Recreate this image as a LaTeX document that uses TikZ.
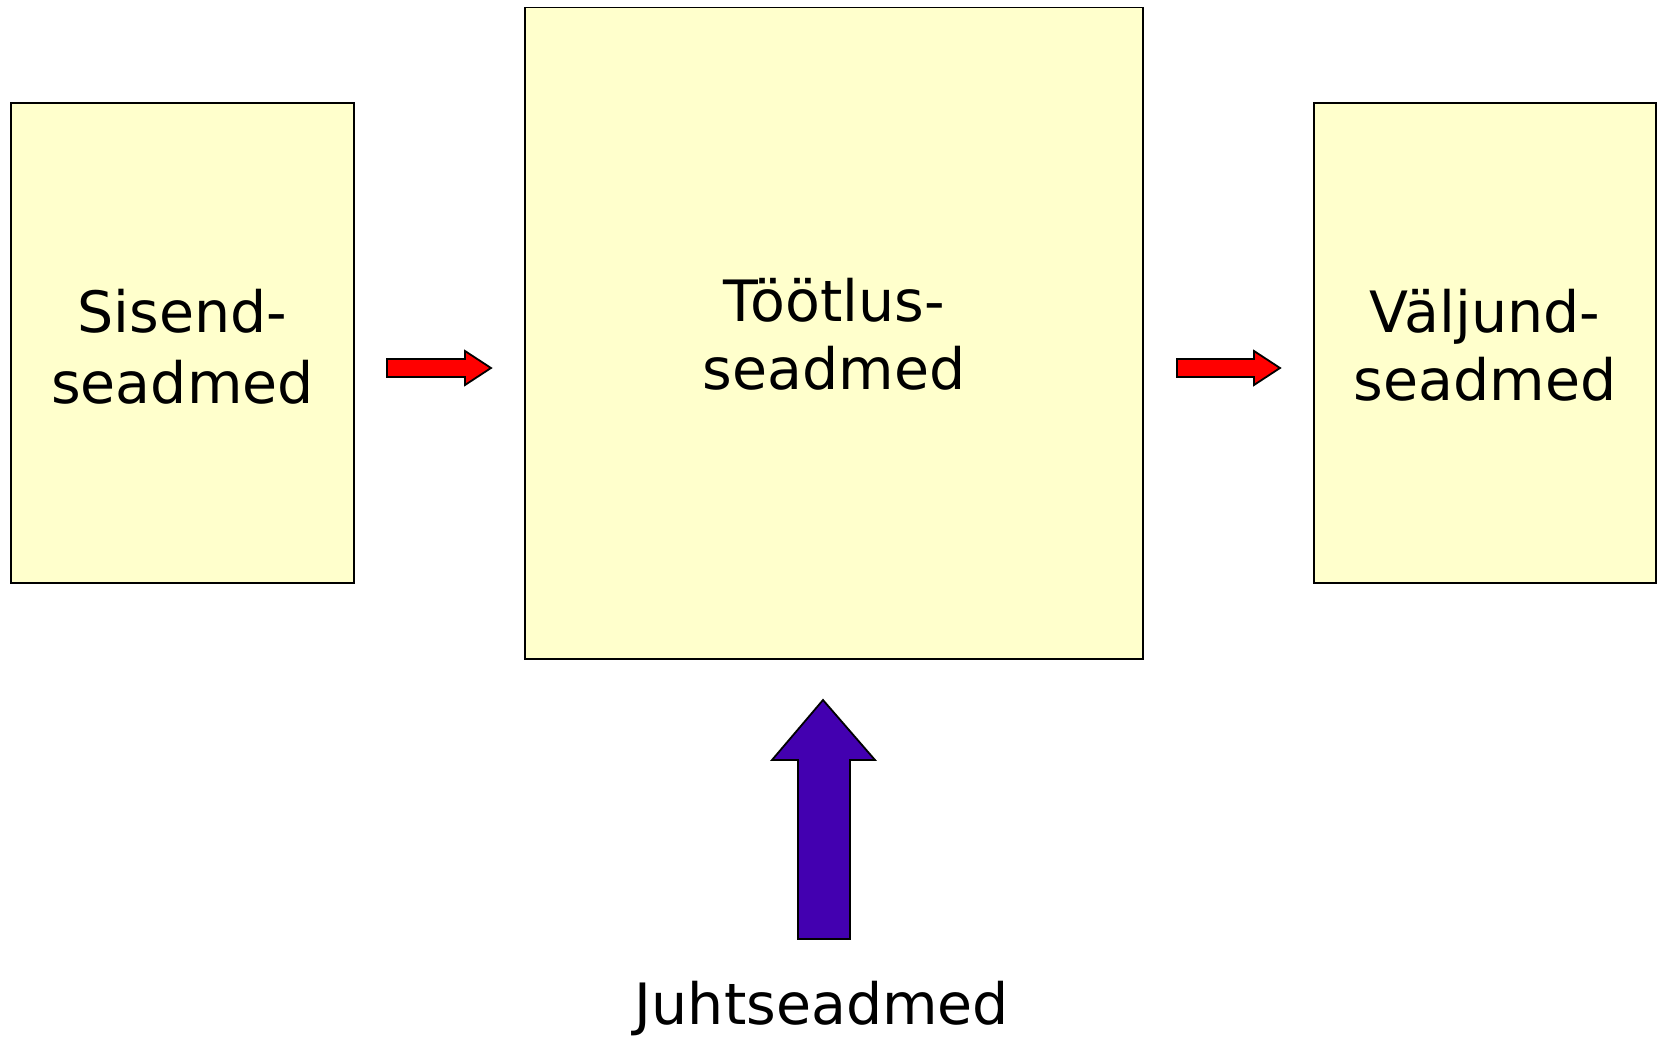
\documentclass[tikz,border=0pt]{standalone}
\usepackage{fontspec}
\setmainfont{DejaVu Sans}
\definecolor{boxfill}{HTML}{FFFFCC}
\definecolor{flowred}{HTML}{FF0000}
\definecolor{ctrlviolet}{HTML}{4300B0}
\begin{document}
\begin{tikzpicture}[x=1pt,y=-1pt,
  unitbox/.style={draw=black, line width=1.8pt, fill=boxfill},
  lbl/.style={font=\fontsize{57}{69}\selectfont, inner sep=0pt, anchor=base},
  blockarrow/.style={draw=black, line width=1.8pt, line join=miter}]
\useasboundingbox (0,0) rectangle (1659,1038);

% device blocks
\draw[unitbox] (11,103) rectangle (354,583);
\draw[unitbox] (525,7.5) rectangle (1143,659);
\draw[unitbox] (1314,103) rectangle (1656,583);

% labels
\node[lbl] (in1) at (182.5,332.7) {Sisend-};
\node[lbl] (in2) at (182.5,403) {seadmed};
\node[lbl] (proc1) at (834,321.7) {Töötlus-};
\node[lbl] (proc2) at (834,389.5) {seadmed};
\node[lbl] (out1) at (1485,332) {Väljund-};
\node[lbl] (out2) at (1485,400) {seadmed};
\node[lbl] (ctrl) at (822,1024) {Juhtseadmed};

% data flow arrows
\draw[blockarrow, fill=flowred]
  (387,359) -- (465,359) -- (465,351) -- (491,368) -- (465,385) -- (465,377) -- (387,377) -- cycle;
\draw[blockarrow, fill=flowred]
  (1177,359) -- (1254,359) -- (1254,351) -- (1280,368) -- (1254,385) -- (1254,377) -- (1177,377) -- cycle;

% control arrow
\draw[blockarrow, fill=ctrlviolet]
  (798,939) -- (798,760) -- (772,760) -- (823,700) -- (875,760) -- (850,760) -- (850,939) -- cycle;
\end{tikzpicture}
\end{document}
